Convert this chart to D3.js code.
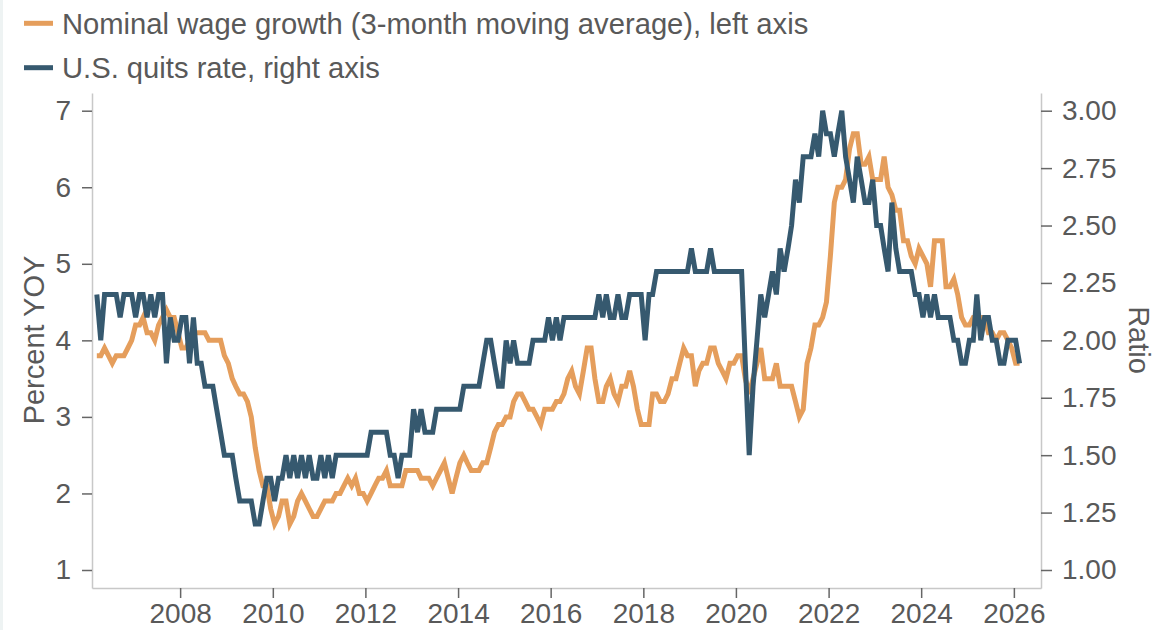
<!DOCTYPE html>
<html>
<head>
<meta charset="utf-8">
<script src="https://cdn.jsdelivr.net/npm/d3@7"></script>
<style>
  html, body { margin: 0; padding: 0; background: #fff; }
  svg { display: block; font-family: "Liberation Sans", Arial, sans-serif; }
</style>
</head>
<body>
<svg id="chart" width="1155" height="630"></svg>
<script>
// monthly values, first point = March 2006
const startYear = 2006, startMonth = 2;

// U.S. quits rate (right axis)
const quitsRate = [
  2.2, 2.0, 2.2, 2.2, 2.2, 2.2, 2.1, 2.2, 2.2, 2.2,            // 2006 Mar-Dec
  2.1, 2.2, 2.2, 2.1, 2.2, 2.1, 2.2, 2.2, 1.9, 2.1, 2.0, 2.0,  // 2007
  2.1, 2.1, 1.9, 2.1, 1.9, 1.9, 1.8, 1.8, 1.8, 1.7, 1.6, 1.5,  // 2008
  1.5, 1.5, 1.4, 1.3, 1.3, 1.3, 1.3, 1.2, 1.2, 1.3, 1.4, 1.4,  // 2009
  1.3, 1.4, 1.4, 1.5, 1.4, 1.5, 1.4, 1.5, 1.4, 1.5, 1.4, 1.4,  // 2010
  1.5, 1.4, 1.5, 1.4, 1.5, 1.5, 1.5, 1.5, 1.5, 1.5, 1.5, 1.5,  // 2011
  1.5, 1.6, 1.6, 1.6, 1.6, 1.6, 1.5, 1.5, 1.4, 1.5, 1.5, 1.5,  // 2012
  1.7, 1.6, 1.7, 1.6, 1.6, 1.6, 1.7, 1.7, 1.7, 1.7, 1.7, 1.7,  // 2013
  1.7, 1.8, 1.8, 1.8, 1.8, 1.8, 1.9, 2.0, 2.0, 1.9, 1.8, 1.8,  // 2014
  2.0, 1.9, 2.0, 1.9, 1.9, 1.9, 1.9, 2.0, 2.0, 2.0, 2.0, 2.1,  // 2015
  2.0, 2.1, 2.0, 2.1, 2.1, 2.1, 2.1, 2.1, 2.1, 2.1, 2.1, 2.1,  // 2016
  2.2, 2.1, 2.2, 2.1, 2.1, 2.2, 2.1, 2.1, 2.2, 2.2, 2.2, 2.2,  // 2017
  2.0, 2.2, 2.2, 2.3, 2.3, 2.3, 2.3, 2.3, 2.3, 2.3, 2.3, 2.3,  // 2018
  2.4, 2.3, 2.3, 2.3, 2.3, 2.4, 2.3, 2.3, 2.3, 2.3, 2.3, 2.3,  // 2019
  2.3, 2.3, 1.9, 1.5, 1.8, 2.0, 2.2, 2.1, 2.2, 2.3, 2.2, 2.4,  // 2020
  2.3, 2.4, 2.5, 2.7, 2.6, 2.8, 2.8, 2.8, 2.9, 2.8, 3.0, 2.9,  // 2021
  2.9, 2.8, 2.9, 3.0, 2.8, 2.7, 2.6, 2.8, 2.7, 2.6, 2.6, 2.7,  // 2022
  2.5, 2.5, 2.4, 2.3, 2.6, 2.4, 2.3, 2.3, 2.3, 2.3, 2.2, 2.2,  // 2023
  2.1, 2.2, 2.1, 2.2, 2.1, 2.1, 2.1, 2.1, 2.0, 2.0, 1.9, 1.9,  // 2024
  2.0, 2.0, 2.2, 2.0, 2.1, 2.1, 2.0, 2.0, 1.9, 1.9, 2.0, 2.0,  // 2025
  2.0, 1.9                                                     // 2026
];

// nominal wage growth, 3-month moving average, % YoY (left axis)
const wageGrowth = [
  3.8, 3.8, 3.9, 3.8, 3.7, 3.8, 3.8, 3.8, 3.9, 4.0,            // 2006 Mar-Dec
  4.2, 4.2, 4.3, 4.1, 4.1, 4.0, 4.2, 4.3, 4.4, 4.3, 4.3, 4.1,  // 2007
  3.9, 3.9, 4.0, 4.1, 4.1, 4.1, 4.1, 4.0, 4.0, 4.0, 4.0, 3.8,  // 2008
  3.7, 3.5, 3.4, 3.3, 3.3, 3.2, 3.0, 2.6, 2.3, 2.1, 2.1, 1.8,  // 2009
  1.6, 1.7, 1.9, 1.9, 1.6, 1.7, 1.9, 2.0, 1.9, 1.8, 1.7, 1.7,  // 2010
  1.8, 1.9, 1.9, 1.9, 2.0, 2.0, 2.1, 2.2, 2.1, 2.2, 2.0, 2.0,  // 2011
  1.9, 2.0, 2.1, 2.2, 2.2, 2.3, 2.1, 2.1, 2.1, 2.1, 2.3, 2.3,  // 2012
  2.3, 2.3, 2.2, 2.2, 2.2, 2.1, 2.2, 2.3, 2.4, 2.2, 2.0, 2.2,  // 2013
  2.4, 2.5, 2.4, 2.3, 2.3, 2.3, 2.4, 2.4, 2.6, 2.8, 2.9, 2.9,  // 2014
  3.0, 3.0, 3.2, 3.3, 3.3, 3.2, 3.1, 3.1, 3.0, 2.9, 3.1, 3.1,  // 2015
  3.1, 3.2, 3.2, 3.3, 3.5, 3.6, 3.4, 3.3, 3.6, 3.9, 3.9, 3.5,  // 2016
  3.2, 3.2, 3.4, 3.5, 3.3, 3.2, 3.4, 3.4, 3.6, 3.4, 3.1, 2.9,  // 2017
  2.9, 2.9, 3.3, 3.3, 3.2, 3.2, 3.3, 3.5, 3.5, 3.7, 3.9, 3.8,  // 2018
  3.8, 3.4, 3.6, 3.7, 3.7, 3.9, 3.9, 3.7, 3.6, 3.5, 3.7, 3.7,  // 2019
  3.8, 3.8, 3.5, 3.3, 3.5, 3.7, 3.9, 3.5, 3.5, 3.5, 3.7, 3.4,  // 2020
  3.4, 3.4, 3.4, 3.2, 3.0, 3.1, 3.7, 3.9, 4.2, 4.2, 4.3, 4.5,  // 2021
  5.1, 5.8, 6.0, 6.0, 6.1, 6.5, 6.7, 6.7, 6.3, 6.3, 6.4, 6.1,  // 2022
  6.1, 6.1, 6.4, 6.0, 5.9, 5.7, 5.7, 5.3, 5.3, 5.1, 5.0, 5.2,  // 2023
  5.1, 5.0, 4.7, 5.3, 5.3, 5.3, 4.7, 4.7, 4.8, 4.6, 4.3, 4.2,  // 2024
  4.2, 4.3, 4.3, 4.3, 4.3, 4.1, 4.1, 4.0, 4.1, 4.1, 4.0, 3.9,  // 2025
  3.7, 3.7                                                     // 2026
];

const leftTicks = [1, 2, 3, 4, 5, 6, 7];
const rightTicks = [1.00, 1.25, 1.50, 1.75, 2.00, 2.25, 2.50, 2.75, 3.00];
const yearTicks = [2008, 2010, 2012, 2014, 2016, 2018, 2020, 2022, 2024, 2026];

const legendItems = [
  {label: 'Nominal wage growth (3-month moving average), left axis', color: '#e59e5c'},
  {label: 'U.S. quits rate, right axis', color: '#36596f'}
];

const dateOf = i => new Date(startYear, startMonth + i, 15);

const svg = d3.select('#chart');
const textColor = '#595959';

// faint strip on the left edge
svg.append('rect').attr('x', 0).attr('y', 0).attr('width', 3).attr('height', 630).attr('fill', '#eef3f3');

const plotTop = 93, plotBottom = 588, plotLeft = 92, plotRight = 1041;

const x = d3.scaleTime()
  .domain([new Date(2006, 1, 5), new Date(2026, 7, 3)])
  .range([plotLeft, plotRight]);

// 1 -> 570, 7 -> 110.7 ; then stretch to plot edges
const yL = d3.scaleLinear().domain([1, 7]).range([570, 110.7]);
yL.domain([yL.invert(plotBottom), yL.invert(plotTop)]).range([plotBottom, plotTop]);
const yR = d3.scaleLinear().domain([1, 3]).range([570, 110.7]);
yR.domain([yR.invert(plotBottom), yR.invert(plotTop)]).range([plotBottom, plotTop]);

function styleAxis(g){
  g.select('.domain').attr('stroke', '#c8c8c8').attr('stroke-width', 1.5);
  g.selectAll('.tick line').attr('stroke', '#666').attr('stroke-width', 1.5);
  g.selectAll('.tick text').attr('fill', textColor).attr('font-size', 28)
    .attr('font-family', '"Liberation Sans", Arial, sans-serif');
}

svg.append('g').attr('transform', `translate(${plotLeft},0)`)
  .call(d3.axisLeft(yL).tickValues(leftTicks).tickFormat(d3.format('d'))
    .tickSize(10).tickPadding(11).tickSizeOuter(0))
  .call(styleAxis);

svg.append('g').attr('transform', `translate(${plotRight},0)`)
  .call(d3.axisRight(yR).tickValues(rightTicks).tickFormat(d3.format('.2f'))
    .tickSize(11).tickPadding(10).tickSizeOuter(0))
  .call(styleAxis);

svg.append('g').attr('transform', `translate(0,${plotBottom})`)
  .call(d3.axisBottom(x).tickValues(yearTicks.map(y => new Date(y, 0, 1)))
    .tickFormat(d3.timeFormat('%Y')).tickSize(10).tickPadding(5.5).tickSizeOuter(0))
  .call(styleAxis);

// axis titles
svg.append('text').attr('transform', 'translate(34,340) rotate(-90)')
  .attr('text-anchor', 'middle').attr('dy', '0.35em')
  .attr('font-size', 29).attr('fill', textColor).text('Percent YOY');
svg.append('text').attr('transform', 'translate(1139,340) rotate(90)')
  .attr('text-anchor', 'middle').attr('dy', '0.35em')
  .attr('font-size', 29).attr('fill', textColor).text('Ratio');

// lines
const wageLine = d3.line().x((d, i) => x(dateOf(i))).y(d => yL(d));
const quitsLine = d3.line().x((d, i) => x(dateOf(i))).y(d => yR(d));

svg.append('path').datum(wageGrowth).attr('d', wageLine)
  .attr('fill', 'none').attr('stroke', legendItems[0].color).attr('stroke-width', 5);
svg.append('path').datum(quitsRate).attr('d', quitsLine)
  .attr('fill', 'none').attr('stroke', legendItems[1].color).attr('stroke-width', 5);

// legend
const legend = svg.append('g');
legendItems.forEach((item, k) => {
  const cy = 23.3 + k * 44.4;
  legend.append('line').attr('x1', 24).attr('x2', 53).attr('y1', cy).attr('y2', cy)
    .attr('stroke', item.color).attr('stroke-width', 5);
  legend.append('text').attr('x', 62).attr('y', cy).attr('dy', '0.36em')
    .attr('font-size', 29.2).attr('fill', textColor).text(item.label);
});
</script>
</body>
</html>
